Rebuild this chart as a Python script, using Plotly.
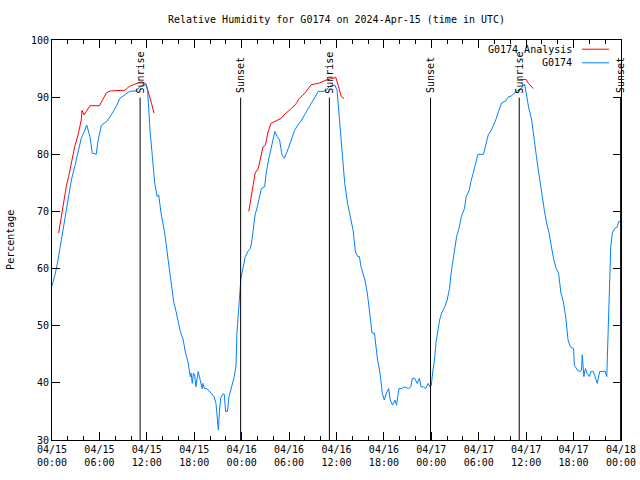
import pandas as pd
import plotly.graph_objects as go

BASE = pd.Timestamp("2024-04-15 00:00")

# Observed G0174 series: hours since 2024-04-15 00:00 UTC, relative humidity (%)
obs_hours = [0.0, 0.4, 0.76, 1.2, 1.6, 2.0, 2.45, 2.87, 3.3, 3.7, 4.1, 4.4, 4.8, 5.1, 5.6, 5.8,
             6.25, 6.9, 7.5, 8.1, 8.6, 9.0, 9.8, 10.7, 11.1, 11.5, 11.9, 12.1, 12.4, 12.7, 13.0,
             13.3, 13.5, 13.8, 14.26, 14.7, 15.1, 15.4, 15.7, 16.2, 16.6, 16.9, 17.2, 17.38,
             17.5, 17.6, 17.75, 17.9, 18.05, 18.2, 18.3, 18.5, 18.6, 18.8, 19.0, 19.1, 19.3,
             19.6, 19.9, 20.2, 20.5, 20.75, 20.9, 21.05, 21.2, 21.35, 21.6, 21.8, 21.97, 22.2,
             22.4, 22.7, 23.07, 23.28, 23.4, 23.6, 23.75, 23.9, 24.2, 24.46, 24.8, 25.1, 25.3,
             25.56, 25.7, 25.98, 26.3, 26.5, 26.9, 27.1, 27.4, 27.75, 28.2, 28.5, 28.8, 29.1,
             29.4, 29.9, 30.3, 30.7, 31.1, 31.6, 32.0, 32.4, 32.8, 33.2, 33.7, 34.3, 34.7,
             35.1, 35.8, 36.07, 36.4, 36.7, 37.04, 37.4, 37.7, 38.1, 38.4, 38.7, 38.9, 39.1,
             39.6, 39.9, 40.2, 40.5, 40.8, 41.2, 41.5, 41.8, 42.05, 42.3, 42.6, 42.8, 43.1,
             43.4, 43.6, 43.9, 44.2, 44.6, 45.1, 45.4, 45.6, 45.9, 46.2, 46.5, 46.7, 47.0,
             47.3, 47.6, 47.8, 48.0, 48.2, 48.4, 48.6, 48.8, 49.05, 49.3, 49.7, 50.0, 50.3,
             50.5, 50.9, 51.2, 51.5, 51.8, 52.2, 52.4, 52.8, 53.0, 53.3, 53.6, 53.9, 54.6,
             54.9, 55.2, 55.6, 55.9, 56.2, 56.5, 56.9, 57.4, 57.7, 58.1, 58.5, 58.9, 59.2,
             59.5, 59.8, 60.0, 60.3, 60.7, 61.0, 61.3, 61.6, 61.9, 62.3, 62.6, 62.9, 63.2,
             63.5, 63.8, 64.1, 64.4, 64.7, 65.0, 65.3, 65.6, 66.0, 66.1, 66.5, 66.8, 67.0,
             67.1, 67.3, 67.5, 67.7, 68.0, 68.2, 68.5, 68.8, 69.0, 69.3, 69.7, 70.0, 70.2,
             70.3, 70.45, 70.55, 70.7, 70.9, 71.2, 71.5, 71.7, 71.95]
obs_rh = [57.0, 59.0, 61.5, 65.0, 68.5, 72.0, 75.5, 77.8, 80.7, 82.8, 84.0, 85.1, 83.1, 80.2, 80.0, 82.2,
          85.1, 85.7, 86.9, 88.3, 89.8, 90.2, 91.0, 91.1, 91.8, 92.1, 92.1, 91.2, 84.2, 79.6, 74.9,
          72.6, 72.9, 69.7, 66.2, 61.5, 57.4, 54.2, 52.5, 49.2, 47.5, 45.2, 43.7, 41.7,
          41.1, 41.7, 39.9, 41.7, 41.4, 39.3, 40.0, 42.0, 41.4, 39.9, 39.0, 39.9, 39.0,
          39.0, 38.5, 38.0, 37.6, 36.4, 33.5, 31.75, 35.25, 37.4, 38.0, 38.0, 35.0, 35.0,
          37.6, 39.3, 41.1, 43.0, 48.7, 52.5, 55.7, 58.3, 60.3, 62.1, 63.0, 63.5, 65.0,
          67.9, 69.4, 70.8, 72.6, 74.0, 74.3, 76.7, 79.0, 81.3, 84.0, 83.1, 82.5, 79.9,
          79.3, 81.0, 82.8, 84.2, 85.1, 86.0, 87.0, 88.0, 89.0, 89.8, 91.0, 91.0, 91.2,
          91.9, 92.1, 91.2, 85.4, 79.6, 74.9, 71.4, 69.4, 66.7, 62.9, 62.1, 62.1, 60.3,
          58.0, 55.7, 52.2, 48.7, 48.7, 44.0, 41.7, 38.2, 37.0, 38.2, 39.0, 37.0, 36.1,
          37.0, 36.1, 39.0, 39.0, 39.3, 39.0, 39.3, 40.8, 40.8, 39.9, 40.8, 39.3, 39.3,
          39.0, 39.9, 39.3, 39.6, 42.2, 44.0, 47.2, 49.2, 51.0, 52.2, 53.3, 54.5, 56.5,
          59.2, 62.7, 65.6, 67.0, 69.1, 70.5, 72.6, 73.7, 75.2, 76.7, 78.4, 80.0, 80.0,
          81.9, 83.4, 84.2, 85.1, 86.2, 87.5, 89.0, 89.3, 90.0, 90.2, 90.7, 91.2, 91.2,
          91.8, 92.3, 90.7, 88.3, 86.0, 82.5, 79.6, 76.7, 73.7, 70.2, 67.9, 66.2, 63.8,
          61.5, 60.0, 59.2, 55.7, 54.2, 51.6, 47.5, 46.3, 46.0, 43.1, 42.2, 42.0, 42.2,
          44.9, 41.1, 42.5, 41.7, 41.1, 42.0, 42.0, 40.5, 39.9, 42.0, 42.0, 42.0, 41.1,
          45.7, 55.1, 60.9, 63.8, 66.2, 67.0, 67.2, 68.2, 68.3]

# Analysis series (three separate segments, None = gap)
ana_hours = [0.84, 1.2, 1.5, 1.8, 2.1, 2.45, 2.87, 3.3, 3.7, 3.8, 4.05, 4.35, 4.8, 6.0, 6.5, 6.9,
             7.5, 9.2, 9.8, 10.7, 11.3, 11.9, 12.2, 12.6, 12.9, 18.0,
             24.9, 25.2, 25.4, 25.7, 26.1, 26.4, 26.7, 27.0, 27.3, 27.7, 28.2, 28.6, 29.0, 29.6,
             30.3, 30.9, 31.3, 32.0, 32.4, 32.8, 33.7, 34.3, 34.9, 35.6, 35.9, 36.2, 36.6, 36.95,
             48.0,
             59.15, 60.0, 60.3, 60.7, 60.9]
ana_rh = [66.2, 69.4, 72.0, 74.3, 76.1, 78.7, 81.3, 83.4, 86.0, 87.7, 86.9, 87.5, 88.5, 88.5, 89.8, 90.8,
          91.1, 91.2, 91.9, 92.4, 92.7, 92.3, 91.0, 88.9, 87.2, None,
          70.0, 72.6, 74.9, 76.7, 77.5, 79.6, 81.3, 81.6, 83.7, 85.4, 85.7, 86.0, 86.3, 87.2,
          88.0, 88.9, 89.8, 90.7, 91.5, 92.2, 92.4, 92.8, 93.1, 93.3, 93.5, 92.1, 90.1, 89.8,
          None,
          93.1, 93.1, 92.4, 91.8, 91.5]

# Sunrise / sunset markers
event_hours = [11.15, 23.87, 35.1, 47.9, 59.12, 71.95]
event_labels = ["Sunrise", "Sunset", "Sunrise", "Sunset", "Sunrise", "Sunset"]

title_text = "Relative Humidity for G0174 on 2024-Apr-15 (time in UTC)"
series_names = ["G0174 Analysis", "G0174"]
series_colors = ["#ff0000", "#0080ff"]

FONT = "DejaVu Sans Mono"


def to_time(hours):
    return [BASE + pd.Timedelta(hours=h) for h in hours]


fig = go.Figure()
fig.add_trace(go.Scatter(x=to_time(ana_hours), y=ana_rh, mode="lines", name=series_names[0],
                         line=dict(color=series_colors[0], width=1), connectgaps=False))
fig.add_trace(go.Scatter(x=to_time(obs_hours), y=obs_rh, mode="lines", name=series_names[1],
                         line=dict(color=series_colors[1], width=1)))

shapes = []
annotations = []
for h, lab in zip(event_hours, event_labels):
    t = BASE + pd.Timedelta(hours=h)
    shapes.append(dict(type="line", xref="x", yref="y", x0=t, x1=t, y0=30, y1=89.9,
                       line=dict(color="black", width=1)))
    annotations.append(dict(x=t, y=90.3, xref="x", yref="y", text=lab, textangle=-90,
                            showarrow=False, xanchor="center", yanchor="bottom",
                            font=dict(family=FONT, size=10, color="black")))

# manual legend (text on the left, line sample on the right, like gnuplot)
leg_y = [0.977, 0.943]
for name, col, ly in zip(series_names, series_colors, leg_y):
    annotations.append(dict(x=0.9174, y=ly, xref="paper", yref="paper", text=name,
                            showarrow=False, xanchor="right", yanchor="middle",
                            font=dict(family=FONT, size=10, color="black")))
    shapes.append(dict(type="line", xref="paper", yref="paper", x0=0.9315, x1=0.979,
                       y0=ly, y1=ly, line=dict(color=col, width=1)))

# y-axis title
annotations.append(dict(x=-0.074, y=0.5, xref="paper", yref="paper", text="Percentage",
                        textangle=-90, showarrow=False, xanchor="center", yanchor="middle",
                        font=dict(family=FONT, size=10, color="black")))

fig.update_layout(
    width=640, height=480,
    margin=dict(l=52, r=19, t=40, b=40, autoexpand=False),
    paper_bgcolor="white", plot_bgcolor="white",
    showlegend=False,
    title=dict(text=title_text, x=0.5, xref="paper", y=1 - 19 / 480, yref="container",
               xanchor="center", yanchor="middle",
               font=dict(family=FONT, size=10, color="black")),
    font=dict(family=FONT, size=10, color="black"),
    shapes=shapes,
    annotations=annotations,
)
fig.update_xaxes(
    type="date", automargin=False,
    range=[BASE, BASE + pd.Timedelta(hours=72)],
    tick0=BASE, dtick=6 * 3600 * 1000,
    tickformat="%m/%d<br>%H:%M",
    ticks="inside", ticklen=8, tickcolor="black", tickwidth=1,
    minor=dict(dtick=2 * 3600 * 1000, ticks="inside", ticklen=4, tickcolor="black", showgrid=False),
    showline=True, linecolor="black", linewidth=1, mirror="ticks",
    showgrid=False, zeroline=False,
    tickfont=dict(family=FONT, size=10, color="black"),
)
fig.update_yaxes(
    automargin=False,
    range=[30, 100], dtick=10, tick0=30,
    ticks="inside", ticklen=8, tickcolor="black", tickwidth=1,
    showline=True, linecolor="black", linewidth=1, mirror="ticks",
    showgrid=False, zeroline=False,
    tickfont=dict(family=FONT, size=10, color="black"),
)

fig.write_html("out.html", config={"displayModeBar": False},
               post_script="document.body.style.margin='0';")
